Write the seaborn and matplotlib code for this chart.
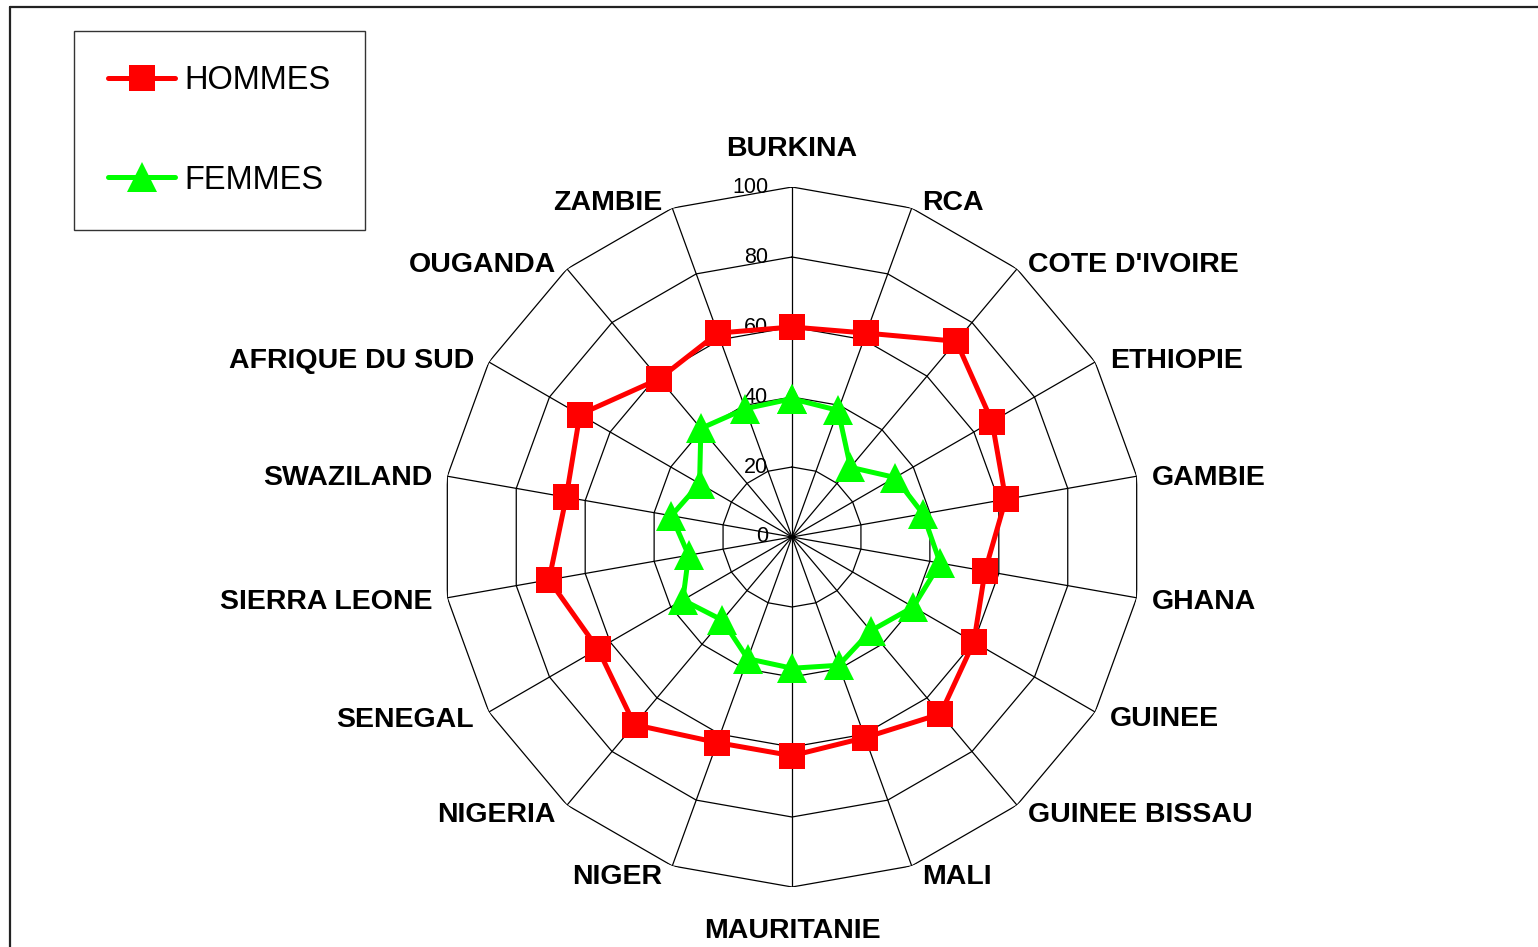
import numpy as np
import pandas as pd
import seaborn as sns
import matplotlib.pyplot as plt
from matplotlib.lines import Line2D

countries = ["BURKINA", "RCA", "COTE D'IVOIRE", "ETHIOPIE", "GAMBIE", "GHANA",
             "GUINEE", "GUINEE BISSAU", "MALI", "MAURITANIE", "NIGER", "NIGERIA",
             "SENEGAL", "SIERRA LEONE", "SWAZILAND", "AFRIQUE DU SUD", "OUGANDA", "ZAMBIE"]
hommes = [60, 62, 73, 66, 62, 56, 60, 66, 61, 62.5, 62.5, 70, 64, 70.5, 65.5, 70, 59, 62]
femmes = [39.5, 38.5, 26, 34, 38, 43, 40, 35, 39, 37.5, 37, 31, 36, 30, 35, 30.5, 40.5, 39]
rings = [0, 20, 40, 60, 80, 100]

sns.set_style("white")
plt.rcParams['font.family'] = ['Liberation Sans', 'DejaVu Sans']
plt.rcParams['text.color'] = 'black'

W, H = 1538, 947
fig = plt.figure(figsize=(W / 100, H / 100), dpi=100)
cx, cy, R = 792, 537, 350
ax = fig.add_axes([(cx - R) / W, (H - cy - R) / H, 2 * R / W, 2 * R / H], projection='polar')
ax.set_theta_zero_location('N')
ax.set_theta_direction(-1)
ax.set_ylim(0, 100)
ax.grid(False)
ax.set_xticks([])
ax.set_yticks([])
ax.spines['polar'].set_visible(False)
ax.patch.set_alpha(0)

n = len(countries)
theta = np.arange(n) * 2 * np.pi / n
theta_c = np.append(theta, 2 * np.pi)

# polygon grid
for r in rings[1:]:
    ax.plot(theta_c, [r] * (n + 1), color='black', lw=0.9, zorder=1)
for t in theta:
    ax.plot([t, t], [0, 100], color='black', lw=0.9, zorder=1)

df = pd.DataFrame({
    "theta": np.concatenate([theta_c, theta_c]),
    "val": hommes + hommes[:1] + femmes + femmes[:1],
    "serie": ["HOMMES"] * (n + 1) + ["FEMMES"] * (n + 1),
})
sns.lineplot(data=df[df.serie == "HOMMES"], x="theta", y="val", sort=False, estimator=None,
             ax=ax, color='#FF0000', lw=3.6, marker='s', markersize=18.5, markeredgewidth=0,
             label="HOMMES", zorder=3)
sns.lineplot(data=df[df.serie == "FEMMES"], x="theta", y="val", sort=False, estimator=None,
             ax=ax, color='#00FF00', lw=3.6, marker='^', markersize=21, markeredgewidth=0,
             label="FEMMES", zorder=3)
ax.set_xlabel("")
ax.set_ylabel("")
ax.set_ylim(0, 100)

# radial tick labels
for r in rings:
    ax.annotate(str(r), xy=(0, r), xytext=(-24, 0), textcoords='offset pixels',
                ha='right', va='center', fontsize=15.5, color='black', zorder=2)

# category labels
for t, name in zip(theta, countries):
    s, c = np.sin(t), np.cos(t)
    if abs(s) < 0.01:
        ha, dx, dy = 'center', 0, 41 * np.sign(c) - 3
    else:
        ha = 'left' if s > 0 else 'right'
        dx = np.sign(s) * (10 if abs(s) < 0.5 else (11 if abs(s) < 0.8 else 15))
        dy = 9 * c - 3
    ax.annotate(name, xy=(t, 100), xytext=(dx, dy), textcoords='offset pixels',
                ha=ha, va='center', fontsize=20.5, fontweight='bold', color='black',
                annotation_clip=False)

leg = ax.legend(loc='upper left', bbox_to_anchor=(74 / W, 1 - 31 / H), bbox_transform=fig.transFigure,
                borderaxespad=0, fontsize=23.5, frameon=True, fancybox=False, shadow=False,
                handlelength=2.05, handletextpad=0.28, borderpad=1.05, labelspacing=2.1,
                labelcolor='black')
leg.get_frame().set_edgecolor('black')
leg.get_frame().set_linewidth(1)

# outer frame
fig.add_artist(Line2D([10 / W, 1], [1 - 7 / H, 1 - 7 / H], color='#222222', lw=1.6, transform=fig.transFigure))
fig.add_artist(Line2D([10 / W, 10 / W], [0, 1 - 7 / H], color='#222222', lw=1.6, transform=fig.transFigure))

fig.savefig("out.png", dpi=100, facecolor='white')
